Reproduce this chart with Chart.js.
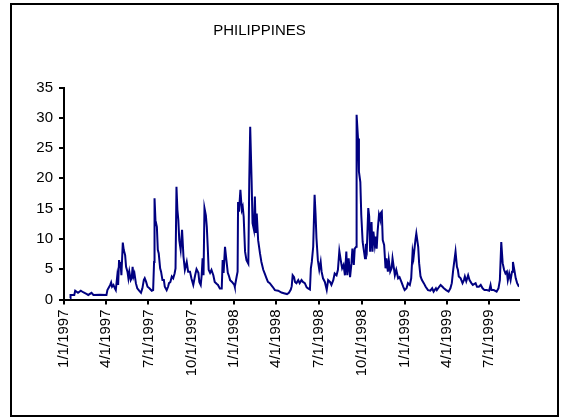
<!DOCTYPE html>
<html>
<head>
<meta charset="utf-8">
<script src="https://cdn.jsdelivr.net/npm/chart.js@4.4.1/dist/chart.umd.min.js"></script>
<style>
  html, body { margin: 0; padding: 0; background: #ffffff; }
  canvas { display: block; }
</style>
</head>
<body>
<canvas id="grafico-philippines" width="561" height="417"></canvas>
<script>
// dias desde 1/1/1997
var dias = [13, 14, 22, 24, 30, 36, 41, 49, 52, 59, 63, 77, 91, 93, 99, 101, 103, 106, 109, 111,
    114, 116, 118, 120, 121, 123, 126, 128, 131, 133, 136, 138, 140, 143, 145, 147, 149, 151, 154, 157,
    161, 165, 168, 171, 173, 176, 179, 183, 188, 191, 193, 194, 196, 199, 201, 203, 206, 208, 211, 214,
    216, 220, 223, 225, 228, 231, 234, 237, 239, 241, 243, 245, 247, 250, 253, 256, 259, 263, 266, 270,
    273, 277, 281, 284, 288, 290, 293, 295, 297, 299, 301, 304, 306, 308, 310, 313, 316, 320, 323, 327,
    330, 334, 338, 340, 342, 345, 348, 351, 353, 356, 360, 365, 366, 370, 372, 373, 375, 378, 381, 383,
    385, 388, 391, 395, 397, 399, 402, 404, 407, 409, 411, 413, 416, 420, 423, 427, 430, 434, 437, 441,
    447, 452, 459, 466, 473, 478, 482, 486, 488, 490, 493, 495, 498, 502, 505, 509, 512, 516, 520, 523,
    527, 529, 531, 534, 537, 539, 541, 544, 547, 550, 552, 555, 559, 563, 566, 570, 573, 577, 580, 584,
    587, 590, 593, 596, 599, 602, 605, 607, 610, 613, 616, 618, 621, 623, 626, 627, 630, 632, 635, 637,
    640, 642, 645, 647, 649, 652, 654, 656, 659, 661, 663, 666, 668, 670, 672, 675, 677, 679, 681, 683,
    686, 689, 691, 694, 696, 699, 702, 704, 707, 709, 712, 716, 719, 723, 727, 730, 734, 737, 741, 744,
    747, 749, 753, 755, 759, 761, 764, 767, 771, 775, 780, 785, 789, 792, 797, 799, 804, 807, 811, 814,
    819, 824, 828, 831, 834, 839, 842, 844, 846, 850, 854, 857, 859, 862, 866, 869, 873, 876, 882, 885,
    889, 893, 897, 901, 906, 911, 914, 916, 921, 927, 931, 934, 937, 940, 943, 946, 949, 951, 954, 957,
    960, 962, 965, 968, 971, 975];

var valores = [0.2, 0.75, 0.75, 1.45, 1.1, 1.45, 1.2, 0.9, 0.75, 1.1, 0.75, 0.8, 0.75, 1.55, 2.4, 2.8, 2.1, 2.4, 1.85, 1.55,
    3.8, 2.4, 6.5, 5.4, 6.2, 4.0, 9.4, 8.2, 7.3, 5.4, 4.6, 3.5, 4.6, 3.2, 3.5, 5.4, 3.8, 4.3, 2.7, 1.85,
    1.45, 1.1, 1.85, 3.2, 3.5, 2.9, 2.1, 1.85, 1.45, 1.55, 6.2, 16.7, 13.1, 12.0, 8.2, 7.6, 5.15, 4.6, 3.2, 3.2,
    2.1, 1.55, 2.1, 2.7, 2.9, 3.8, 3.5, 4.3, 5.15, 18.6, 14.8, 13.1, 9.8, 8.2, 11.5, 7.1, 4.9, 6.2, 4.6, 4.6,
    3.5, 2.4, 4.0, 5.0, 4.4, 2.9, 2.4, 4.0, 6.8, 4.0, 15.1, 13.9, 12.0, 8.7, 4.9, 4.4, 4.9, 4.0, 2.9, 2.6,
    2.4, 1.8, 1.8, 6.5, 4.4, 8.7, 6.5, 4.4, 4.0, 3.2, 2.9, 2.4, 2.1, 3.8, 4.6, 16.1, 14.5, 18.1, 14.8, 15.3,
    13.7, 7.9, 6.5, 5.9, 19.7, 28.5, 19.7, 12.6, 11.5, 17.0, 11.0, 14.2, 9.8, 7.6, 6.2, 4.9, 4.3, 3.5, 2.9, 2.7,
    2.1, 1.55, 1.45, 1.15, 1.0, 0.9, 1.1, 1.65, 2.2, 4.0, 3.7, 2.9, 2.7, 3.2, 2.7, 3.2, 2.9, 2.7, 2.0, 1.85,
    1.65, 5.15, 6.2, 8.7, 17.3, 14.2, 10.1, 6.5, 4.9, 6.2, 4.6, 3.5, 2.9, 1.6, 3.2, 2.9, 2.4, 3.2, 4.3, 4.0,
    4.9, 8.0, 6.5, 5.15, 5.7, 4.0, 7.9, 4.0, 6.8, 3.7, 6.0, 8.4, 5.7, 8.4, 8.7, 30.5, 26.6, 21.1, 19.4, 14.0,
    9.5, 8.4, 6.8, 9.2, 8.4, 15.1, 13.7, 7.9, 12.8, 7.9, 11.2, 9.0, 10.4, 8.4, 11.2, 14.0, 13.4, 14.3, 14.5, 9.8,
    9.0, 5.15, 6.8, 4.6, 6.5, 4.6, 5.15, 6.8, 5.15, 4.0, 4.9, 3.5, 3.7, 2.9, 2.1, 1.55, 1.85, 2.7, 2.4, 3.5,
    7.9, 6.9, 9.8, 10.9, 8.7, 6.0, 3.8, 3.2, 2.7, 2.1, 1.55, 1.45, 1.85, 1.3, 1.85, 1.55, 2.1, 2.4, 2.1, 1.85,
    1.55, 1.3, 1.85, 2.7, 4.9, 7.9, 5.4, 4.9, 3.8, 3.5, 2.7, 3.2, 3.8, 3.0, 4.0, 3.2, 2.7, 2.4, 2.7, 2.1,
    2.1, 2.4, 1.85, 1.55, 1.55, 1.45, 2.4, 1.55, 1.55, 1.3, 1.85, 3.2, 9.5, 6.0, 4.9, 4.3, 4.6, 3.2, 4.3, 3.2,
    4.6, 6.2, 4.9, 3.5, 2.7, 2.1];

// marcas trimestrales del eje x
var diasTrimestre = [0, 90, 181, 273, 365, 455, 546, 638, 730, 820, 911];
var etiquetasTrimestre = ["1/1/1997", "4/1/1997", "7/1/1997", "10/1/1997", "1/1/1998", "4/1/1998",
    "7/1/1998", "10/1/1998", "1/1/1999", "4/1/1999", "7/1/1999"];

var ticksY = [0, 5, 10, 15, 20, 25, 30, 35];

var puntos = [];
for (var i = 0; i < dias.length; i++) {
    puntos.push({ x: dias[i], y: valores[i] });
}

Chart.defaults.font.family = "'Liberation Sans', Arial, sans-serif";
Chart.defaults.color = '#000000';

// marco negro alrededor de todo el grafico
var marco = {
    id: 'marco',
    afterDraw: function (chart) {
        var ctx = chart.ctx;
        ctx.save();
        ctx.strokeStyle = '#000000';
        ctx.lineWidth = 2;
        ctx.strokeRect(11, 4, 547, 412);
        ctx.restore();
    }
};

const ctx = document.getElementById("grafico-philippines");
var myChart = new Chart(ctx, {
    type: 'line',
    data: {
        datasets: [{
            label: 'PHILIPPINES',
            data: puntos,
            borderColor: '#000080',
            backgroundColor: '#000080',
            borderWidth: 2,
            pointRadius: 0,
            tension: 0,
            fill: false
        }]
    },
    options: {
        responsive: false,
        animation: false,
        devicePixelRatio: 1,
        layout: {
            padding: { left: 0, right: 42, top: 0, bottom: 0 }
        },
        plugins: {
            legend: { display: false },
            tooltip: { enabled: false },
            title: {
                display: true,
                text: 'PHILIPPINES',
                color: '#000000',
                font: { size: 15, weight: 'normal' },
                padding: { top: 21.5, bottom: 48 }
            }
        },
        scales: {
            x: {
                type: 'linear',
                min: 0,
                max: 975,
                afterFit: function (scale) { scale.height = 117.5; },
                afterBuildTicks: function (scale) {
                    scale.ticks = diasTrimestre.map(function (d) { return { value: d }; });
                },
                grid: {
                    display: true,
                    drawOnChartArea: false,
                    drawTicks: true,
                    tickLength: 5,
                    color: '#000000',
                    lineWidth: 2
                },
                border: { display: true, color: '#000000', width: 2 },
                ticks: {
                    autoSkip: false,
                    minRotation: 90,
                    maxRotation: 90,
                    padding: 5,
                    color: '#000000',
                    font: { size: 15 },
                    callback: function (value) {
                        var k = diasTrimestre.indexOf(value);
                        return k >= 0 ? etiquetasTrimestre[k] : '';
                    }
                }
            },
            y: {
                min: 0,
                max: 35,
                afterFit: function (scale) { scale.width = 64; },
                afterBuildTicks: function (scale) {
                    scale.ticks = ticksY.map(function (v) { return { value: v }; });
                },
                grid: {
                    display: true,
                    drawOnChartArea: false,
                    drawTicks: true,
                    tickLength: 5,
                    color: '#000000',
                    lineWidth: 2
                },
                border: { display: true, color: '#000000', width: 2 },
                ticks: {
                    padding: 6,
                    color: '#000000',
                    font: { size: 15 }
                }
            }
        }
    },
    plugins: [marco]
});
</script>
</body>
</html>
